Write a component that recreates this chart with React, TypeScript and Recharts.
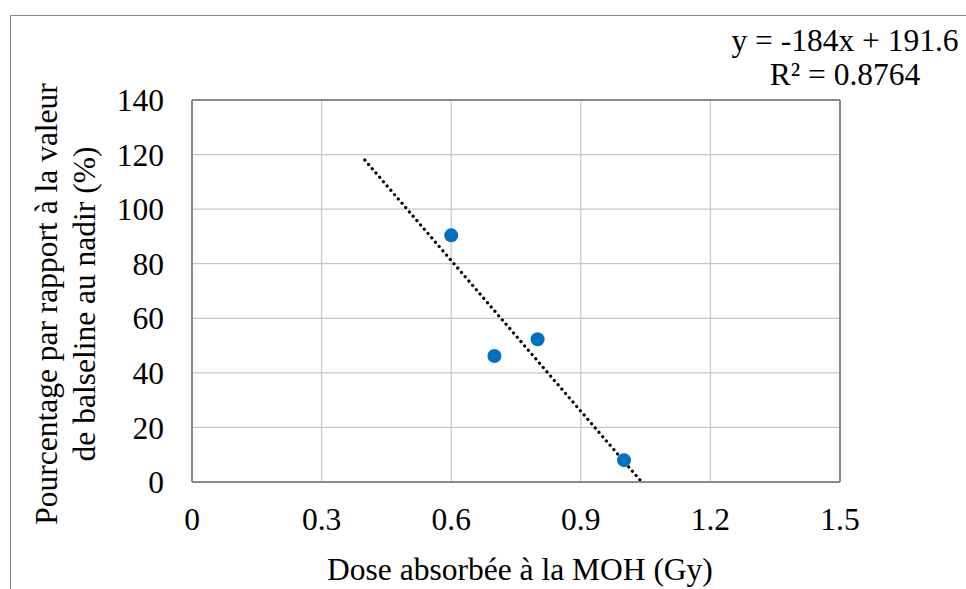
import React from "react";
import {
  ComposedChart,
  Scatter,
  XAxis,
  YAxis,
  CartesianGrid,
  ReferenceLine,
} from "recharts";

const doses = [0.6, 0.7, 0.8, 1.0];
const percentages = [90.4, 46.2, 52.3, 8.0];
const trendX = [0.4, 1.041];
const trendY = [118.0, 0];
const xTicks = [0, 0.3, 0.6, 0.9, 1.2, 1.5];
const yTicks = [0, 20, 40, 60, 80, 100, 120, 140];
const equationLines = ["y = -184x + 191.6", "R² = 0.8764"];
const xTitle = "Dose absorbée à la MOH (Gy)";
const yTitleLines = ["Pourcentage par rapport à la valeur", "de balseline au nadir (%)"];

const points = doses.map((d, i) => ({ x: d, y: percentages[i] }));

const FONT = "Liberation Serif";
const FS = 31.5;

const YLabel = () => {
  const cy = 304;
  const x1 = 57;
  const x2 = 95;
  return (
    <g>
      <text
        x={x1}
        y={cy}
        transform={`rotate(-90, ${x1}, ${cy})`}
        textAnchor="middle"
        fontFamily={FONT}
        fontSize={FS}
        fill="#000"
      >
        {yTitleLines[0]}
      </text>
      <text
        x={x2}
        y={cy}
        transform={`rotate(-90, ${x2}, ${cy})`}
        textAnchor="middle"
        fontFamily={FONT}
        fontSize={FS}
        fill="#000"
      >
        {yTitleLines[1]}
      </text>
    </g>
  );
};

const XLabel = () => {
  return (
    <text x={520} y={580} textAnchor="middle" fontFamily={FONT} fontSize={FS} fill="#000">
      {xTitle}
    </text>
  );
};

export default function App() {
  return (
    <div style={{ position: "absolute", left: 0, top: 0, width: 966, height: 589, background: "#fff", overflow: "hidden" }}>
      <div
        style={{
          position: "absolute",
          left: 10,
          top: 15,
          width: 1000,
          height: 600,
          borderTop: "1.5px solid #8a8a8a",
          borderLeft: "1.5px solid #8a8a8a",
        }}
      />
      <div
        style={{
          position: "absolute",
          left: 720,
          top: 24.4,
          width: 250,
          textAlign: "center",
          fontFamily: FONT,
          fontSize: FS,
          lineHeight: "34px",
          color: "#000",
          whiteSpace: "nowrap",
        }}
      >
        <div>{equationLines[0]}</div>
        <div>{equationLines[1]}</div>
      </div>
      <div style={{ position: "absolute", left: 0, top: 0 }}>
        <ComposedChart
          width={966}
          height={589}
          margin={{ top: 100, right: 126, bottom: 0, left: 0 }}
          style={{ fontFamily: FONT }}
        >
          <CartesianGrid stroke="#c6c6c6" strokeWidth={1.2} />
          <XAxis
            type="number"
            dataKey="x"
            domain={[0, 1.5]}
            ticks={xTicks}
            tickFormatter={(v: number) => String(v)}
            height={107}
            axisLine={{ stroke: "#898989", strokeWidth: 2 }}
            tickLine={false}
            tickSize={0}
            tickMargin={25.6}
            tick={{ fontFamily: FONT, fontSize: FS, fill: "#000" }}
            label={{ content: XLabel }}
            allowDataOverflow
          />
          <YAxis
            type="number"
            dataKey="y"
            domain={[0, 140]}
            ticks={yTicks}
            width={192}
            axisLine={{ stroke: "#898989", strokeWidth: 2 }}
            tickLine={false}
            tickSize={0}
            tickMargin={28}
            tick={{ fontFamily: FONT, fontSize: FS, fill: "#000" }}
            label={{ content: YLabel }}
            allowDataOverflow
          />
          <ReferenceLine y={140} stroke="#898989" strokeWidth={2} />
          <ReferenceLine x={1.5} stroke="#898989" strokeWidth={2} />
          <Scatter
            data={points}
            fill="#0070C0"
            isAnimationActive={false}
            shape={(p: any) => <circle cx={p.cx} cy={p.cy} r={7} fill="#0070C0" />}
          />
          <ReferenceLine
            segment={[
              { x: trendX[0], y: trendY[0] },
              { x: trendX[1], y: trendY[1] },
            ]}
            stroke="#000"
            strokeWidth={3.2}
            strokeDasharray="0.1 5.6"
            strokeLinecap="round"
          />
        </ComposedChart>
      </div>
    </div>
  );
}
